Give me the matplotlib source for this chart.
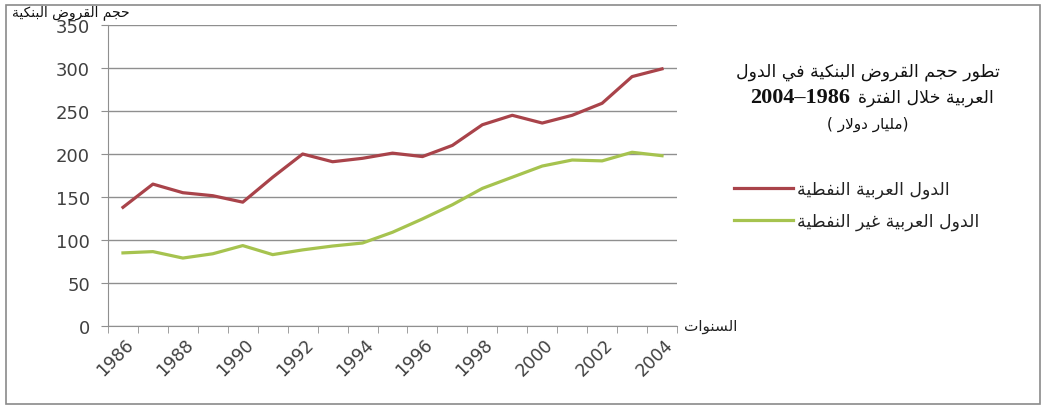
import numpy as np
import matplotlib.pyplot as plt
from matplotlib.patches import Rectangle
from matplotlib.lines import Line2D
from matplotlib.transforms import ScaledTranslation

# bank loans, billion dollars
years = list(range(1986, 2005))
oil = [138, 165, 155, 151.5, 144, 173, 200, 191, 195, 201, 197, 210, 234, 245, 236, 245, 259, 290, 299]
non_oil = [85, 86.5, 79, 84, 93.5, 83, 88.5, 93, 96.5, 109, 124.5, 141, 160, 173, 186, 193, 192, 202, 198]
year_labels = [str(y) for y in years[::2]]
yticks = [0, 50, 100, 150, 200, 250, 300, 350]

# isolated, final, initial, medial presentation forms
FORMS = {
    'ا': ('\ufe8d', '\ufe8e', None, None),
    'ب': ('\ufe8f', '\ufe90', '\ufe91', '\ufe92'),
    'ة': ('\ufe93', '\ufe94', None, None),
    'ت': ('\ufe95', '\ufe96', '\ufe97', '\ufe98'),
    'ج': ('\ufe9d', '\ufe9e', '\ufe9f', '\ufea0'),
    'ح': ('\ufea1', '\ufea2', '\ufea3', '\ufea4'),
    'خ': ('\ufea5', '\ufea6', '\ufea7', '\ufea8'),
    'د': ('\ufea9', '\ufeaa', None, None),
    'ر': ('\ufead', '\ufeae', None, None),
    'س': ('\ufeb1', '\ufeb2', '\ufeb3', '\ufeb4'),
    'ض': ('\ufebd', '\ufebe', '\ufebf', '\ufec0'),
    'ط': ('\ufec1', '\ufec2', '\ufec3', '\ufec4'),
    'ع': ('\ufec9', '\ufeca', '\ufecb', '\ufecc'),
    'غ': ('\ufecd', '\ufece', '\ufecf', '\ufed0'),
    'ف': ('\ufed1', '\ufed2', '\ufed3', '\ufed4'),
    'ق': ('\ufed5', '\ufed6', '\ufed7', '\ufed8'),
    'ك': ('\ufed9', '\ufeda', '\ufedb', '\ufedc'),
    'ل': ('\ufedd', '\ufede', '\ufedf', '\ufee0'),
    'م': ('\ufee1', '\ufee2', '\ufee3', '\ufee4'),
    'ن': ('\ufee5', '\ufee6', '\ufee7', '\ufee8'),
    'و': ('\ufeed', '\ufeee', None, None),
    'ي': ('\ufef1', '\ufef2', '\ufef3', '\ufef4'),
}


def arabic(text):
    # matplotlib has no shaping, so pick joined forms and reverse the order
    out = []
    prev_joins = False
    i = 0
    while i < len(text):
        c = text[i]
        if c not in FORMS:
            out.append(c)
            prev_joins = False
            i += 1
            continue
        if c == 'ل' and i + 1 < len(text) and text[i + 1] == 'ا':
            out.append('\ufefc' if prev_joins else '\ufefb')
            prev_joins = False
            i += 2
            continue
        iso, fin, ini, med = FORMS[c]
        nxt = text[i + 1] if i + 1 < len(text) else ''
        next_joins = ini is not None and nxt in FORMS
        if prev_joins and next_joins:
            out.append(med)
        elif prev_joins:
            out.append(fin)
        elif next_joins:
            out.append(ini)
        else:
            out.append(iso)
        prev_joins = ini is not None
        i += 1
    return ''.join(reversed(out))


plt.rcParams['font.family'] = ['DejaVu Sans']
W, H = 1048, 410
fig = plt.figure(figsize=(W / 100, H / 100), dpi=100)
ax = fig.add_axes([108 / W, 1 - 327 / H, (677 - 108) / W, (327 - 26) / H])

x = np.arange(len(years))
red = '#a9434a'
green = '#a6c34f'
ax.plot(x, oil, color=red, lw=2.3, solid_joinstyle='round', zorder=3)
ax.plot(x, non_oil, color=green, lw=2.3, solid_joinstyle='round', zorder=3)

ax.set_xlim(-0.5, len(years) - 0.5)
ax.set_ylim(0, 350)
ax.set_yticks(yticks)
ax.set_yticklabels([str(v) for v in yticks], fontsize=13, color='#404040')
ax.yaxis.grid(True, color='#8f8f8f', lw=1.0)
ax.set_axisbelow(True)
for s in ['top', 'right']:
    ax.spines[s].set_visible(False)
for s in ['left', 'bottom']:
    ax.spines[s].set_color('#8f8f8f')
ax.tick_params(axis='y', length=5, color='#8f8f8f', pad=8)

# category boundaries get the tick marks, labels sit on every other year
ax.set_xticks(x[::2])
ax.set_xticklabels(year_labels, fontsize=12.5, color='#404040', rotation=45,
                   ha='right', va='center', rotation_mode='anchor')
ax.set_xticks(np.arange(-0.5, len(years)), minor=True)
ax.tick_params(axis='x', which='major', length=0, pad=11)
ax.tick_params(axis='x', which='minor', length=5, color='#8f8f8f')
shift = ScaledTranslation(8 / 100, 0, fig.dpi_scale_trans)
for lab in ax.get_xticklabels():
    lab.set_transform(lab.get_transform() + shift)

# axis names
fig.text(12 / W, 1 - 13 / H, arabic('حجم القروض البنكية'), fontsize=10,
         ha='left', va='center', color='#111111')
fig.text(684 / W, 1 - 326 / H, arabic('السنوات'), fontsize=11,
         ha='left', va='center', color='#222222')

# title block on the right
fig.text(868 / W, 1 - 72 / H, arabic('تطور حجم القروض البنكية في الدول'),
         fontsize=12.5, ha='center', va='center', color='#111111')
fig.text(858 / W, 1 - 103 / H, arabic('العربية خلال الفترة'),
         fontsize=12.5, ha='left', va='baseline', color='#111111')
fig.text(850 / W, 1 - 103 / H, '2004\u20131986', family='Liberation Serif',
         fontweight='bold', fontsize=16, ha='right', va='baseline', color='#111111')
fig.text(868 / W, 1 - 124 / H, '( ' + arabic('مليار دولار') + ')',
         fontsize=11, ha='center', va='center', color='#111111')

handles = [Line2D([], [], color=red, lw=2.3), Line2D([], [], color=green, lw=2.3)]
labels = [arabic('الدول العربية النفطية'), arabic('الدول العربية غير النفطية')]
fig.legend(handles, labels, loc='center left', bbox_to_anchor=(718 / W, 1 - 206 / H),
           frameon=False, fontsize=12.5, handlelength=3.4, handletextpad=0.25,
           labelspacing=0.8, labelcolor='#222222')

fig.add_artist(Rectangle((6 / W, 5 / H), (1040 - 6) / W, (404 - 5) / H,
                         transform=fig.transFigure, fill=False,
                         edgecolor='#8a8a8a', lw=1.2))

fig.savefig('out.png', dpi=100)
